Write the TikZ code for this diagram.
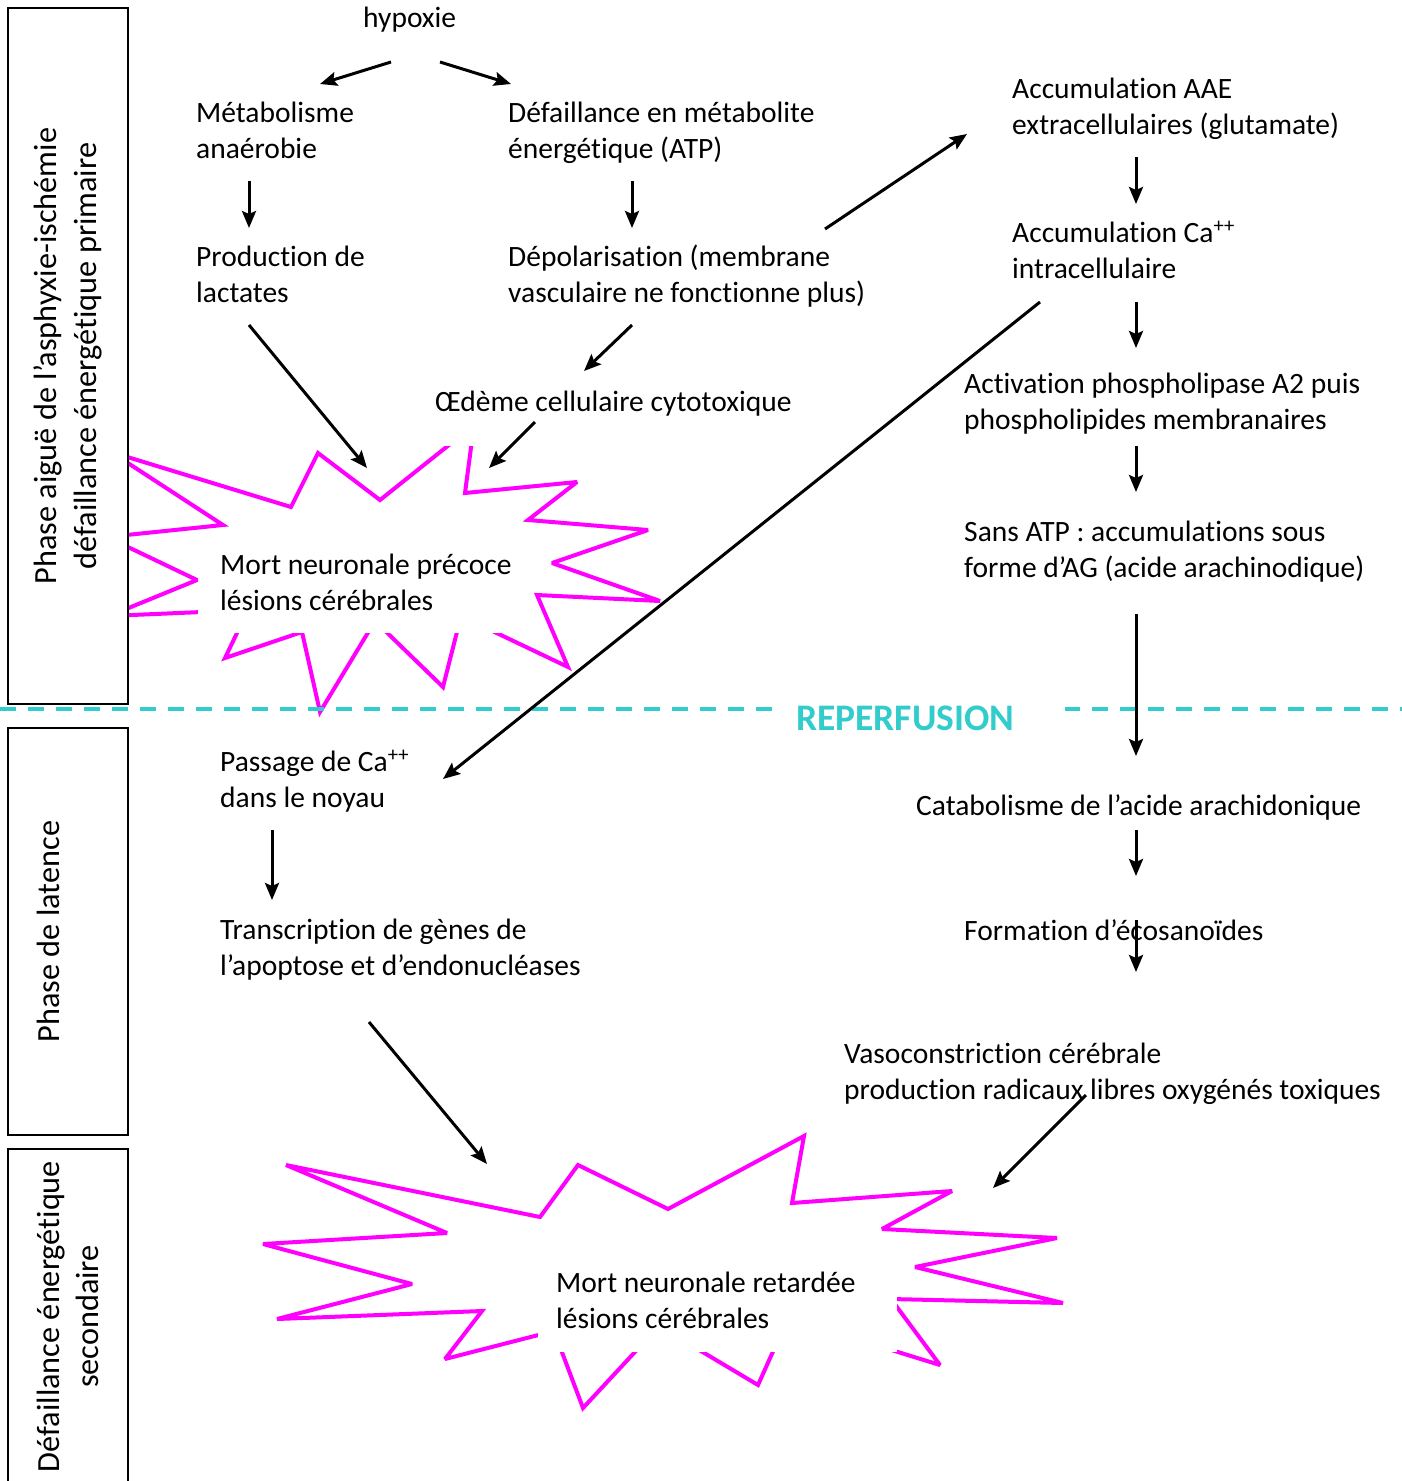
\documentclass[tikz,border=0pt]{standalone}
\usepackage{fontspec}
\setmainfont{Carlito}[Ligatures=NoCommon]
\usepackage{tikz}
\usetikzlibrary{arrows.meta}
\definecolor{starpink}{HTML}{FF00FF}
\definecolor{turq}{HTML}{33CCCC}

\begin{document}
\begin{tikzpicture}[x=1pt, y=-1pt,
  font=\fontsize{29.5}{36}\selectfont,
  txt/.style={anchor=base west, inner sep=0pt, align=left},
  cover/.style={fill=white, inner ysep=0pt, anchor=north west},
  phase/.style={draw, line width=2pt, fill=white, rotate=90, align=center, inner sep=0pt,
    font=\fontsize{32.3}{39.5}\selectfont},
  arr/.style={line width=3pt, -{Stealth[length=17pt,width=14pt,inset=3pt]}},
  burst/.style={draw=starpink, line width=4pt, miter limit=3},
  sepline/.style={draw=turq, line width=4pt, dash pattern=on 16pt off 12pt}]
  \useasboundingbox (0,0) rectangle (1402,1481);

  % the two starbursts
  \draw[burst] (111,452) -- (291,507) -- (318,453) -- (380,500) -- (474,425)
    -- (465,493) -- (577,482) -- (528,520) -- (648,530) -- (552,563)
    -- (660,601) -- (537,595) -- (568,667) -- (461,616) -- (443,687)
    -- (375,621) -- (320,712) -- (302,632) -- (225,658) -- (248,610)
    -- (109,616) -- (197,580) -- (107,537) -- (223,525) -- cycle;
  \draw[burst] (286,1165) -- (540,1217) -- (578,1165) -- (668,1209) -- (804,1136)
    -- (792,1203) -- (952,1191) -- (882,1229) -- (1057,1238) -- (915,1267)
    -- (1063,1303) -- (891,1299) -- (940,1365) -- (788,1318) -- (758,1385)
    -- (659,1326) -- (583,1408) -- (554,1331) -- (445,1359) -- (482,1311)
    -- (277,1319) -- (412,1284) -- (263,1244) -- (447,1233) -- cycle;

  % phases
  \node (acute) [phase, minimum width=696pt, minimum height=120pt] at (68,356)
    {Phase aiguë de l’asphyxie-ischémie\\défaillance énergétique primaire};
  \node (latency) [phase, minimum width=407pt, minimum height=120pt] at (68,931.5)
    {Phase de latence\\\mbox{}};
  \node (second) [phase, minimum width=335pt, minimum height=120pt] at (68,1316.5)
    {Défaillance énergétique\\secondaire};

  \draw[sepline] (0,709) -- (1402,709);
  \node (reperf) [fill=white, text=turq, anchor=west, inner xsep=21pt, inner ysep=4pt,
    text width=248pt, font=\fontsize{37.5}{40}\selectfont\bfseries] at (775,718.5) {REPERFUSION};

  % texts
  \node (hyp) [txt] at (363,27) {hypoxie};
  \node (metab) [txt] at (196,158) {Métabolisme\\anaérobie};
  \node (defail) [txt] at (508,158) {Défaillance en métabolite\\énergétique (ATP)};
  \node (prod) [txt] at (196,302) {Production de\\lactates};
  \node (depol) [txt] at (508,302) {Dépolarisation (membrane\\vasculaire ne fonctionne plus)};
  \node (oedeme) [txt, fill=white, inner xsep=10pt, text depth=35pt] at (425,411)
    {Œdème cellulaire cytotoxique};
  \node (mort1) [cover, align=left, inner xsep=22pt, minimum height=101pt] at (198,532)
    {Mort neuronale précoce\\lésions cérébrales};
  \node (aae) [txt] at (1012,134) {Accumulation AAE\\extracellulaires (glutamate)};
  \node (caintra) [txt] at (1012,278) {Accumulation Ca\textsuperscript{++}\\intracellulaire};
  \node (phospho) [txt] at (964,429) {Activation phospholipase A2 puis\\phospholipides membranaires};
  \node (sansatp) [txt] at (964,577) {Sans ATP : accumulations sous\\forme d’AG (acide arachinodique)};
  \node (passage) [txt] at (220,807) {Passage de Ca\textsuperscript{++}\\dans le noyau};
  \node (catab) [txt] at (916,815) {Catabolisme de l’acide arachidonique};
  \node (transcr) [txt] at (220,975) {Transcription de gènes de\\l’apoptose et d’endonucléases};
  \node (ecos) [txt] at (964,940) {Formation d’écosanoïdes};
  \node (vaso) [txt] at (844,1099) {Vasoconstriction cérébrale\\production radicaux libres oxygénés toxiques};
  \node (mort2) [cover, align=flush left, text width=323pt, inner xsep=18pt,
    minimum height=104pt] at (538,1248) {Mort neuronale retardée\\lésions cérébrales};

  % arrows
  \draw[arr] ([shift={(28,35)}]hyp.base west) -- ([shift={(124,-74)}]metab.base west);
  \draw[arr] ([shift={(77,35)}]hyp.base west) -- ([shift={(3,-74)}]defail.base west);
  \draw[arr] ([shift={(53,23)}]metab.base west) -- ([shift={(53,-74)}]prod.base west);
  \draw[arr] ([shift={(124,23)}]defail.base west) -- ([shift={(124,-74)}]depol.base west);
  \draw[arr] ([shift={(53,23)}]prod.base west) -- ([shift={(169,-64)}]mort1.north west);
  \draw[arr] ([shift={(124,23)}]depol.base west) -- ([shift={(159,-40)}]oedeme.base west);
  \draw[arr] ([shift={(110,11)}]oedeme.base west) -- ([shift={(291,-64)}]mort1.north west);
  \draw[arr] ([shift={(317,-73)}]depol.base west) -- ([shift={(-45,0)}]aae.base west);
  \draw[arr] ([shift={(124,23)}]aae.base west) -- ([shift={(124,-74)}]caintra.base west);
  \draw[arr] ([shift={(28,24)}]caintra.base west) -- ([shift={(223,-28)}]passage.base west);
  \draw[arr] ([shift={(124,24)}]caintra.base west) -- ([shift={(172,-81)}]phospho.base west);
  \draw[arr] ([shift={(172,17)}]phospho.base west) -- ([shift={(172,-85)}]sansatp.base west);
  \draw[arr] ([shift={(172,37)}]sansatp.base west) -- ([shift={(220,-59)}]catab.base west);
  \draw[arr] ([shift={(220,15)}]catab.base west) -- ([shift={(172,-64)}]ecos.base west);
  \draw[arr] ([shift={(172,-20)}]ecos.base west) -- ([shift={(292,-127)}]vaso.base west);
  \draw[arr] ([shift={(52,23)}]passage.base west) -- ([shift={(52,-75)}]transcr.base west);
  \draw[arr] ([shift={(149,47)}]transcr.base west) -- ([shift={(-51,-84)}]mort2.north west);
  \draw[arr] ([shift={(242,-4)}]vaso.base west) -- ([shift={(455,-60)}]mort2.north west);
\end{tikzpicture}
\end{document}
